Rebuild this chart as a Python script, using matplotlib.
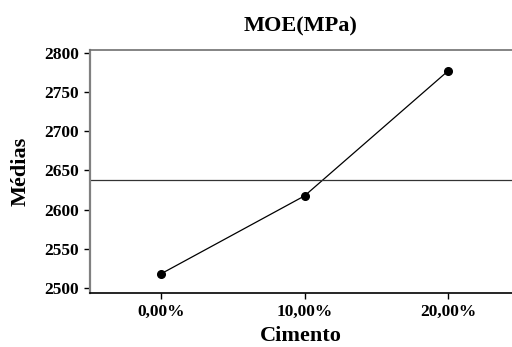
import matplotlib
matplotlib.use('Agg')
import matplotlib.pyplot as plt

# data
categories = ['0,00%', '10,00%', '20,00%']
medias = [2518, 2617.5, 2777]
mean_line = 2637.5
yticks = [2500, 2550, 2600, 2650, 2700, 2750, 2800]

plt.rcParams['font.family'] = ['Liberation Serif', 'DejaVu Serif']
plt.rcParams['font.weight'] = 'bold'

fig = plt.figure(figsize=(5.12, 3.47), dpi=100)
ax = fig.add_axes([90/512, 1-293/347, 1-90/512, 243/347])

x = list(range(len(categories)))
ax.plot(x, medias, color='black', lw=0.9, marker='o', ms=5.5)
ax.axhline(mean_line, color='#333333', lw=0.9)

ax.set_xlim(-0.495, 2.446)
ax.set_ylim(2493.5, 2803.8)
ax.set_xticks(x)
ax.set_xticklabels(categories, fontsize=12.5, fontweight='bold')
ax.set_yticks(yticks)
ax.set_yticklabels([str(v) for v in yticks], fontsize=12.5, fontweight='bold')
ax.tick_params(direction='out', length=4, width=1, pad=4)

ax.spines['right'].set_visible(False)
ax.spines['left'].set_color('#808080')
ax.spines['left'].set_linewidth(1.6)
ax.spines['top'].set_color('#707070')
ax.spines['top'].set_linewidth(1.2)
ax.spines['bottom'].set_color('black')
ax.spines['bottom'].set_linewidth(1.2)

ax.set_title('MOE(MPa)', fontsize=16, fontweight='bold', pad=13)
ax.set_xlabel('Cimento', fontsize=16, fontweight='bold', labelpad=4)
ax.set_ylabel('Médias', fontsize=16, fontweight='bold', labelpad=10)

fig.savefig('out.png', dpi=100)
